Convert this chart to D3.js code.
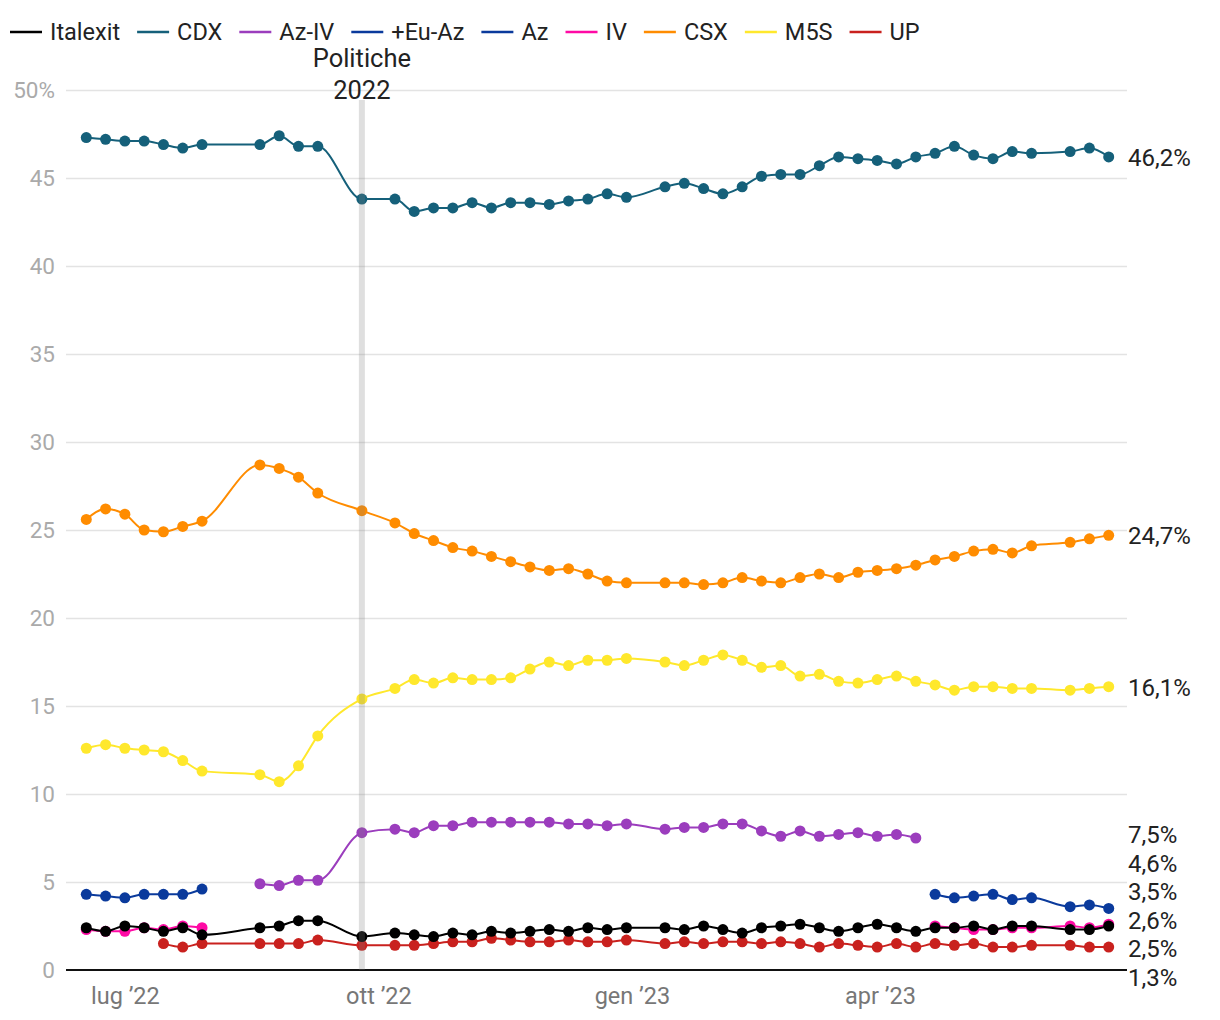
<!DOCTYPE html>
<html><head><meta charset="utf-8">
<script src="https://cdn.jsdelivr.net/npm/d3@7"></script>
<style>body{margin:0;background:#fff;font-family:Roboto,sans-serif}svg text{font-family:Roboto,sans-serif}</style>
</head><body><svg id="c" width="1220" height="1020"></svg>
<script>
// ---- data ----
const dates = ["2022-06-17","2022-06-24","2022-07-01","2022-07-08","2022-07-15","2022-07-22","2022-07-29",
"2022-08-19","2022-08-26","2022-09-02","2022-09-09","2022-09-25","2022-10-07","2022-10-14","2022-10-21","2022-10-28",
"2022-11-04","2022-11-11","2022-11-18","2022-11-25","2022-12-02","2022-12-09","2022-12-16","2022-12-23","2022-12-30",
"2023-01-13","2023-01-20","2023-01-27","2023-02-03","2023-02-10","2023-02-17","2023-02-24","2023-03-03","2023-03-10",
"2023-03-17","2023-03-24","2023-03-31","2023-04-07","2023-04-14","2023-04-21","2023-04-28","2023-05-05","2023-05-12",
"2023-05-19","2023-05-26","2023-06-09","2023-06-16","2023-06-23"];
const _ = null;
const italexit = [2.4,2.2,2.5,2.4,2.2,2.4,2.0, 2.4,2.5,2.8,2.8,1.9,2.1,2.0,1.9,2.1, 2.0,2.2,2.1,2.2,2.3,2.2,2.4,2.3,2.4,
  2.4,2.3,2.5,2.3,2.1,2.4,2.5,2.6,2.4, 2.2,2.4,2.6,2.4,2.2,2.4,2.4,2.5,2.3, 2.5,2.5,2.3,2.3,2.5];
const cdx = [47.3,47.2,47.1,47.1,46.9,46.7,46.9, 46.9,47.4,46.8,46.8,43.8,43.8,43.1,43.3,43.3, 43.6,43.3,43.6,43.6,43.5,43.7,43.8,44.1,43.9,
  44.5,44.7,44.4,44.1,44.5,45.1,45.2,45.2,45.7, 46.2,46.1,46.0,45.8,46.2,46.4,46.8,46.3,46.1, 46.5,46.4,46.5,46.7,46.2];
const azIv = [_,_,_,_,_,_,_, 4.9,4.8,5.1,5.1,7.8,8.0,7.8,8.2,8.2, 8.4,8.4,8.4,8.4,8.4,8.3,8.3,8.2,8.3,
  8.0,8.1,8.1,8.3,8.3,7.9,7.6,7.9,7.6, 7.7,7.8,7.6,7.7,7.5,_,_,_,_, _,_,_,_,_];
const euAz = [4.3,4.2,4.1,4.3,4.3,4.3,4.6, _,_,_,_,_,_,_,_,_, _,_,_,_,_,_,_,_,_,
  _,_,_,_,_,_,_,_,_, _,_,_,_,_,_,_,_,_, _,_,_,_,_];
const az = [_,_,_,_,_,_,_, _,_,_,_,_,_,_,_,_, _,_,_,_,_,_,_,_,_,
  _,_,_,_,_,_,_,_,_, _,_,_,_,_,4.3,4.1,4.2,4.3, 4.0,4.1,3.6,3.7,3.5];
const iv = [2.3,2.2,2.2,2.4,2.3,2.5,2.4, _,_,_,_,_,_,_,_,_, _,_,_,_,_,_,_,_,_,
  _,_,_,_,_,_,_,_,_, _,_,_,_,_,2.5,2.4,2.3,2.3, 2.4,2.4,2.5,2.4,2.6];
const csx = [25.6,26.2,25.9,25.0,24.9,25.2,25.5, 28.7,28.5,28.0,27.1,26.1,25.4,24.8,24.4,24.0, 23.8,23.5,23.2,22.9,22.7,22.8,22.5,22.1,22.0,
  22.0,22.0,21.9,22.0,22.3,22.1,22.0,22.3,22.5, 22.3,22.6,22.7,22.8,23.0,23.3,23.5,23.8,23.9, 23.7,24.1,24.3,24.5,24.7];
const m5s = [12.6,12.8,12.6,12.5,12.4,11.9,11.3, 11.1,10.7,11.6,13.3,15.4,16.0,16.5,16.3,16.6, 16.5,16.5,16.6,17.1,17.5,17.3,17.6,17.6,17.7,
  17.5,17.3,17.6,17.9,17.6,17.2,17.3,16.7,16.8, 16.4,16.3,16.5,16.7,16.4,16.2,15.9,16.1,16.1, 16.0,16.0,15.9,16.0,16.1];
const up = [_,_,_,_,1.5,1.3,1.5, 1.5,1.5,1.5,1.7,1.4,1.4,1.4,1.5,1.6, 1.6,1.8,1.7,1.6,1.6,1.7,1.6,1.6,1.7,
  1.5,1.6,1.5,1.6,1.6,1.5,1.6,1.5,1.3, 1.5,1.4,1.3,1.5,1.3,1.5,1.4,1.5,1.3, 1.3,1.4,1.4,1.3,1.3];

const seriesNames = ["Italexit","CDX","Az-IV","+Eu-Az","Az","IV","CSX","M5S","UP"];
const seriesValues = [italexit, cdx, azIv, euAz, az, iv, csx, m5s, up];
const seriesColors = ["#000000","#15607a","#9b3dbd","#0a3a9c","#0a3a9c","#ff0aa5","#ff8c00","#ffe82c","#c9211e"];

const yTicks = [0,5,10,15,20,25,30,35,40,45,50];
const xTickDates = ["2022-07-01","2022-10-01","2023-01-01","2023-04-01"];
const xTickLabels = ["lug ’22","ott ’22","gen ’23","apr ’23"];
const eventDate = "2022-09-25";
const eventLabel = ["Politiche","2022"];

// ---- chart ----
const parse = d3.utcParse("%Y-%m-%d");
const svg = d3.select("#c");
const L = 66, R = 1127, T = 90, B = 970;
const x = d3.scaleUtc().domain([parse("2022-06-10"), parse("2023-06-30")]).range([L+1, R+1]);
const y = d3.scaleLinear().domain([0,50]).range([B, T]);

// gridlines + y labels
const ya = svg.append("g").attr("transform",`translate(${R},0)`)
  .call(d3.axisLeft(y).tickValues(yTicks).tickSize(R-L).tickPadding(11)
    .tickFormat(d => d===50 ? "50%" : d));
ya.select(".domain").remove();
ya.selectAll(".tick line").attr("stroke","#e3e3e3").attr("stroke-width",1.5)
  .attr("opacity", d => d===0 ? 0 : 1);
ya.selectAll(".tick text").attr("fill","#aaaaaa").attr("font-size",22.5);

// x axis
const xa = svg.append("g").attr("transform",`translate(0,${B})`)
  .call(d3.axisBottom(x).tickValues(xTickDates.map(parse)).tickSize(0).tickPadding(17)
    .tickFormat((d,i) => xTickLabels[i]));
xa.select(".domain").remove();
xa.selectAll(".tick text").attr("fill","#777777").attr("font-size",23.5);
svg.append("line").attr("x1",L).attr("x2",R).attr("y1",B).attr("y2",B)
  .attr("stroke","#111").attr("stroke-width",2);

// series
const line = d3.line().defined(d => d.v != null).x(d => x(d.date)).y(d => y(d.v)).curve(d3.curveMonotoneX);
const order = d3.range(seriesNames.length).reverse();
order.forEach(si => {
  const pts = dates.map((d,i) => ({date: parse(d), v: seriesValues[si][i]}));
  const g = svg.append("g");
  g.append("path").datum(pts).attr("d", line).attr("fill","none")
    .attr("stroke", seriesColors[si]).attr("stroke-width", 2);
  g.selectAll("circle").data(pts.filter(p => p.v != null)).join("circle")
    .attr("cx", p => x(p.date)).attr("cy", p => y(p.v)).attr("r", 5.5)
    .attr("fill", seriesColors[si]);
});

// event band
const ex = x(parse(eventDate));
svg.append("rect").attr("x", ex-3).attr("width",6).attr("y",100).attr("height",B-100)
  .attr("fill","rgba(128,128,128,0.25)");
svg.append("text").attr("x", ex).attr("y", 58).attr("text-anchor","middle").attr("dominant-baseline","central")
  .attr("font-size",25.5).attr("fill","#222").text(eventLabel[0]);
svg.append("text").attr("x", ex).attr("y", 90).attr("text-anchor","middle").attr("dominant-baseline","central")
  .attr("font-size",25.5).attr("fill","#222").text(eventLabel[1]);

// end labels with dodge
const fmt = v => d3.format(".1f")(v).replace(".", ",") + "%";
let labels = seriesNames.map((n,si) => {
  const vals = seriesValues[si];
  let last = null;
  for (let i = vals.length-1; i >= 0; i--) if (vals[i] != null) { last = vals[i]; break; }
  return {v: last, y: y(last) + 1};
}).sort((a,b) => a.y - b.y);
const gap = 28.5;
let groups = labels.map(l => ({items:[l], top:l.y}));
let changed = true;
while (changed) {
  changed = false;
  for (let i = 0; i < groups.length-1; i++) {
    const a = groups[i], b = groups[i+1];
    if (a.top + a.items.length*gap > b.top) {
      const items = a.items.concat(b.items);
      const mean = d3.mean(items, it => it.y);
      groups.splice(i, 2, {items, top: mean - (items.length-1)*gap/2});
      changed = true; break;
    }
  }
}
groups.forEach(g => g.items.forEach((it,k) => it.py = g.top + k*gap));
svg.append("g").selectAll("text").data(labels).join("text")
  .attr("x", 1128).attr("y", d => d.py).attr("dominant-baseline","central")
  .attr("font-size",24).attr("fill","#222").text(d => fmt(d.v));

// legend
const lg = svg.append("g");
let lx = 10;
seriesNames.forEach((n,si) => {
  lg.append("line").attr("x1",lx).attr("x2",lx+32).attr("y1",32).attr("y2",32)
    .attr("stroke",seriesColors[si]).attr("stroke-width",2.5);
  const t = lg.append("text").attr("x",lx+40).attr("y",32).attr("dominant-baseline","central")
    .attr("font-size",23.5).attr("fill","#222").text(n);
  lx += 40 + t.node().getComputedTextLength() + 17;
});
</script>
</body></html>
